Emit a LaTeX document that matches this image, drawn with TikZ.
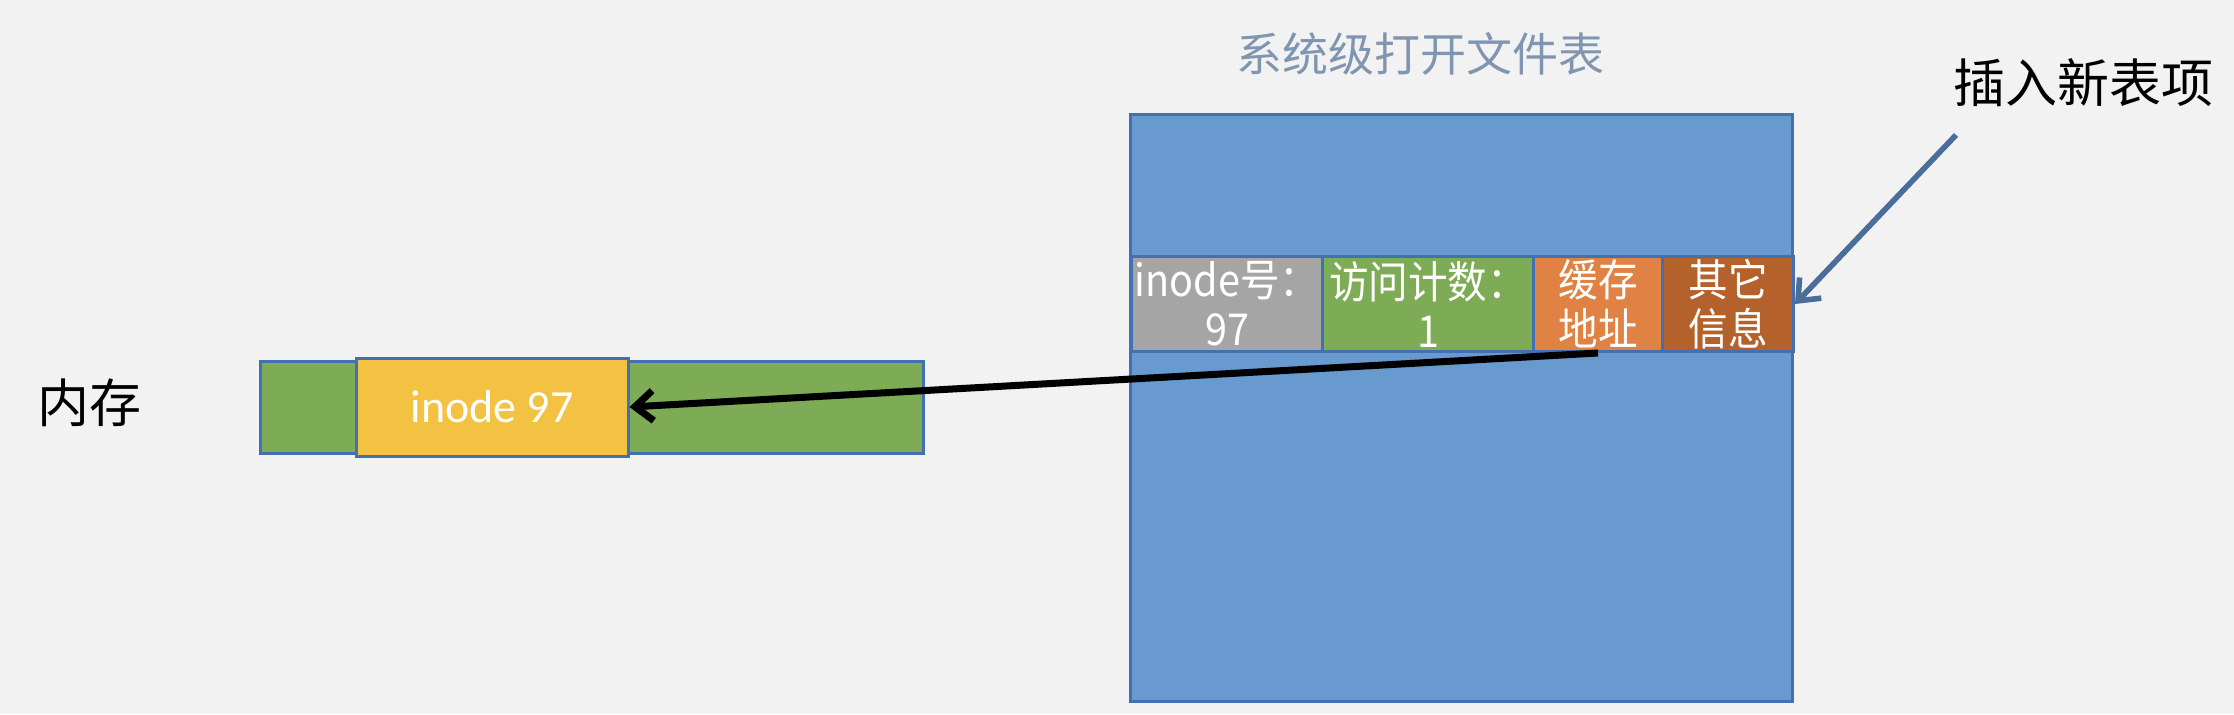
\documentclass[tikz,border=0pt]{standalone}
\usepackage{fontspec}
\setmainfont{Carlito}
\newfontfamily\cjk{Noto Sans CJK SC}
\newfontfamily\cjknarrow[FakeStretch=0.9]{Noto Sans CJK SC}
\usetikzlibrary{arrows.meta}

\definecolor{bgcol}{HTML}{F2F2F2}
\definecolor{tblblue}{HTML}{6899CF}
\definecolor{edgeblue}{HTML}{4270B0}
\definecolor{cellgray}{HTML}{A5A5A5}
\definecolor{cellgreen}{HTML}{7EAB55}
\definecolor{cellorange}{HTML}{E08244}
\definecolor{cellbrown}{HTML}{B5612B}
\definecolor{inodeyellow}{HTML}{F4C242}
\definecolor{titlecol}{HTML}{8096B0}
\definecolor{arrowblue}{HTML}{4A6D9A}

\tikzset{
  cell/.style={draw=edgeblue, line width=1.5pt, anchor=north west, inner sep=0pt,
    minimum height=47.5pt, text=white, align=center,
    font=\cjknarrow\fontsize{22}{24.5}\selectfont},
  label/.style={font=\cjk\fontsize{26}{30}\selectfont}
}

\begin{document}
\begin{tikzpicture}[x=0.5pt,y=-0.5pt]
    \useasboundingbox[fill=bgcol] (0,0) rectangle (2234,714);

    \node[text=titlecol, font=\cjk\fontsize{23}{27}\selectfont] (title) at (1420,54) {系统级打开文件表};
    \node[label] (insert) at (2083,83) {插入新表项};
    \node[label] (mem) at (90,403) {内存};

    \draw[fill=tblblue, draw=edgeblue, line width=1.5pt] (1130,114) rectangle (1792,701);

    \node[cell, fill=cellgray, minimum width=95.5pt] (ino num) at (1130,255) {inode号：\\97};
    \node[cell, fill=cellgreen, minimum width=105.5pt] (count) at (1321,255) {访问计数：\\1};
    \node[cell, fill=cellorange, minimum width=64.5pt] (addr) at (1532,255) {缓存\\地址};
    \node[cell, fill=cellbrown, minimum width=65.5pt] (other) at (1661,255) {其它\\信息};

    \node[draw=edgeblue, fill=cellgreen, line width=1.5pt, anchor=north west, inner sep=0pt,
        minimum width=331.5pt, minimum height=46pt] (memory) at (259,360) {};
    \node[draw=edgeblue, fill=inodeyellow, line width=1.5pt, inner sep=0pt,
        minimum width=136pt, minimum height=49pt, text=white,
        font=\fontsize{23}{27}\selectfont] (ino) at (492,407) {inode 97};

    \coordinate (tail) at (1956,135);
    \draw[-{Straight Barb[length=9pt,width=15pt,line width=2.8pt]}, line width=2.8pt, arrowblue] (tail) -- (other.east);
    \draw[-{Straight Barb[length=9pt,width=15pt,line width=3.5pt]}, line width=3.5pt] (addr.south) -- (ino.east);
\end{tikzpicture}
\end{document}
